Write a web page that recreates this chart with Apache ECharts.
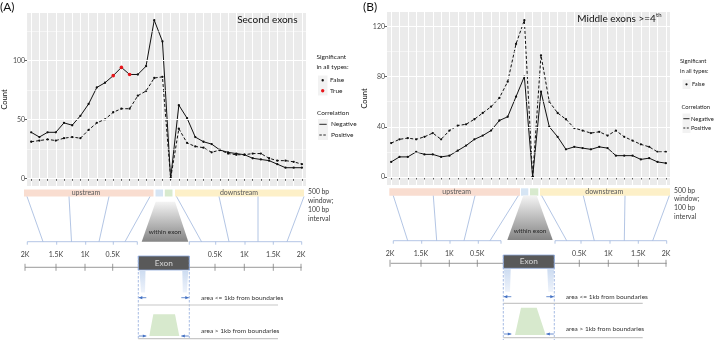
<!DOCTYPE html>
<html><head><meta charset="utf-8">
<script src="https://cdn.jsdelivr.net/npm/echarts@6/dist/echarts.min.js"></script>
<style>html,body{margin:0;padding:0;background:#fff}#c{width:722px;height:340px}</style>
</head><body><div id="c"></div>
<script>
// ---- data ----
const categories = ['U-2000','U-1900','U-1800','U-1700','U-1600','U-1500','U-1400','U-1300','U-1200','U-1100','U-1000','U-900','U-800','U-700','U-600','U-500','E<=1kb','E>1kb','D0','D100','D200','D300','D400','D500','D600','D700','D800','D900','D1000','D1100','D1200','D1300','D1400','D1500'];
const secondNegative = [39,35,39,39,47,45,53,63,77,81,87,94,88,88,95,134,116,0,62,51,35,31,29,24,22,21,20,17,16,15,12,9,9,9];
const secondPositive = [31,32,33,32,34,35,34,41,47,50,56,59,59,70,74,85,86,0,42,30,27,26,22,24,21,20,20,21,21,17,15,15,14,12];
const secondNegSignificant = [0,0,0,0,0,0,0,0,0,0,1,1,1,0,0,0,0,0,0,0,0,0,0,0,0,0,0,0,0,0,0,0,0,0];
const middlePositive = [27,30,31,30,32,35,30,37,41,42,46,51,56,63,76,106,125,0,97,60,51,46,39,37,35,36,33,37,32,29,26,24,20,20];
const middleNegative = [12,16,16,20,18,18,16,17,21,25,30,33,37,45,48,64,80,0,68,40,32,22,24,23,22,24,23,17,17,17,14,15,12,11];
const ticksA = [0,50,100];
const minorA = [25,75,125];
const ticksB = [0,40,80,120];
const minorB = [20,60,100];

const FONT = 'Lato, "Open Sans", sans-serif';

function gridSeries(xi, majors, minors) {
  return {
    type:'line', xAxisIndex:xi, yAxisIndex:xi, data:[], silent:true, z:1,
    markLine:{silent:true, symbol:['none','none'], label:{show:false}, animation:false,
      lineStyle:{color:'#ffffff', type:'solid', width:1},
      data: majors.map(v=>({yAxis:v})).concat(minors.map(v=>({yAxis:v, lineStyle:{color:'#ffffff', type:'solid', width:0.5}})))}
  };
}
function dataSeries(xi, vals, sig, dashed) {
  return {
    type:'line', xAxisIndex:xi, yAxisIndex:xi, z:3, symbol:'circle', showAllSymbol:true,
    data: vals.map((v,i)=>({value:v, symbolSize: sig[i]?3.6:2.3, itemStyle:{color: sig[i]?'#e8161b':'#111'}})),
    lineStyle:{color:'#111', width:1, type: dashed?[3,2]:'solid'},
    emphasis:{disabled:true}
  };
}
const zeros = categories.map(()=>0);

function xAx(gi){
  return {type:'category', gridIndex:gi, data:categories, boundaryGap:true,
    axisLine:{show:false}, axisLabel:{show:false},
    axisTick:{show:true, alignWithLabel:true, interval:0, length:2.5, lineStyle:{color:'#333', width:0.8}},
    splitLine:{show:true, alignWithLabel:true, interval:0, lineStyle:{color:'#fff', width:1}}};
}
function yAx(gi, mn, mx, ticks){
  return {type:'value', gridIndex:gi, min:mn, max:mx, axisLine:{show:false},
    axisTick:{show:true, length:2.5, customValues:ticks, lineStyle:{color:'#333', width:0.8}},
    axisLabel:{customValues:ticks, color:'#4d4d4d', fontSize:7, fontFamily:FONT, margin:2},
    splitLine:{show:false},
    name:'Count', nameLocation:'middle', nameGap: gi===0?15:17, nameTextStyle:{fontSize:7.5, color:'#111', fontFamily:FONT}};
}

// ---- graphics (diagram + legends) ----
const G = [];
function txt(x,y,s,o){ G.push({type:'text', x:x, y:y, silent:true, z:10, style:Object.assign({text:s, fill:'#404040', fontSize:7, fontFamily:FONT, align:'left', verticalAlign:'middle', textAlign:'left', textVerticalAlign:'middle'}, o||{})}); }
function ln(x1,y1,x2,y2,c,w,d){ G.push({type:'line', silent:true, z:10, shape:{x1:x1,y1:y1,x2:x2,y2:y2}, style:{stroke:c, lineWidth:w||0.8, lineDash:d||null}}); }
function poly(pts,fill){ G.push({type:'polygon', silent:true, z:9, shape:{points:pts}, style:{fill:fill}}); }
function rc(x,y,w,h,fill,stroke,lw){ G.push({type:'rect', silent:true, z:9, shape:{x:x,y:y,width:w,height:h}, style:{fill:fill, stroke:stroke||null, lineWidth:lw||0}}); }
function dot(x,y,r,c){ G.push({type:'circle', silent:true, z:11, shape:{cx:x,cy:y,r:r}, style:{fill:c}}); }
function arrow(x1,y,x2){ const c='#4472c4'; ln(x1,y,x2,y,c,0.8); const d = x2>x1?1:-1; poly([[x2,y],[x2-d*3.5,y-1.6],[x2-d*3.5,y+1.6]],c); }

const LB = '#9fb6dd';
function diagram(p){
  rc(p.up[0], p.sy0, p.up[1]-p.up[0], p.sy1-p.sy0, '#f9ddd0');
  rc(p.blue[0], p.sy0, p.blue[1]-p.blue[0], p.sy1-p.sy0, '#d6e5f4');
  rc(p.green[0], p.sy0, p.green[1]-p.green[0], p.sy1-p.sy0, '#d8eace');
  rc(p.down[0], p.sy0, p.down[1]-p.down[0], p.sy1-p.sy0, '#fdf0c8');
  const my = (p.sy0+p.sy1)/2;
  txt(p.upText, my, 'upstream', {align:'center', textAlign:'center', fill:'#595959', fontSize:7});
  txt(p.downText, my, 'downstream', {align:'center', textAlign:'center', fill:'#595959', fontSize:7});
  p.upFan.concat(p.downFan).forEach(f=>ln(f[0], p.sy1, f[1], p.by, LB, 0.8));
  [p.upBr, p.downBr].forEach(b=>{
    ln(b[0], p.by, b[b.length-1], p.by, LB, 0.8);
    b.forEach(x=>ln(x, p.by, x, p.by+3, LB, 0.8));
  });
  G.push({type:'polygon', silent:true, z:9, shape:{points:[[p.wt[0],p.wty0],[p.wt[1],p.wty0],[p.wb[1],p.wty1],[p.wb[0],p.wty1]]},
    style:{fill:{type:'linear',x:0,y:0,x2:0,y2:1,colorStops:[{offset:0,color:'#f4f4f4'},{offset:1,color:'#858585'}]}}});
  txt((p.wb[0]+p.wb[1])/2, p.wtext, 'within exon', {align:'center', textAlign:'center', fill:'#262626', fontSize:6.4});
  p.upLab.concat(p.downLab).forEach(l=>{
    txt(l[0], p.ly, l[1], {align:'center', textAlign:'center', fill:'#404040', fontSize:7});
    ln(l[0], p.ry-3.5, l[0], p.ry+3.5, '#808080', 0.8);
  });
  ln(p.upR[0], p.ry, p.upR[1], p.ry, '#808080', 0.8);
  ln(p.downR[0], p.ry, p.downR[1], p.ry, '#808080', 0.8);
  rc(p.ex[0], p.ey0, p.ex[1]-p.ex[0], p.ey1-p.ey0, '#595959', '#8faadc', 0.8);
  txt((p.ex[0]+p.ex[1])/2, (p.ey0+p.ey1)/2, 'Exon', {align:'center', textAlign:'center', fill:'#d9d9d9', fontSize:8.3});
  ln(p.ex[0], p.ey0, p.ex[0], 340, '#8faadc', 0.8, [2.5,1.5]);
  ln(p.ex[1], p.ey0, p.ex[1], 340, '#8faadc', 0.8, [2.5,1.5]);
  const bf = {type:'linear',x:0,y:0,x2:0,y2:1,colorStops:[{offset:0,color:'#cddcf1'},{offset:1,color:'#eef3fb'}]};
  G.push({type:'polygon', silent:true, z:9, shape:{points:[[p.bl[0],p.bty0],[p.bl[1],p.bty0],[p.bl[3],p.bty1],[p.bl[2],p.bty1]]}, style:{fill:bf}});
  G.push({type:'polygon', silent:true, z:9, shape:{points:[[p.br[0],p.bty0],[p.br[1],p.bty0],[p.br[3],p.bty1],[p.br[2],p.bty1]]}, style:{fill:bf}});
  arrow(p.ex[0]+8, p.a1, p.ex[0]+0.5);
  arrow(p.ex[1]-8, p.a1, p.ex[1]-0.5);
  txt(p.tx, p.a1, 'area <= 1kb from boundaries', {fill:'#333', fontSize:6.5});
  ln(p.ex[0], p.sep, p.lineEnd, p.sep, '#c8c8c8', 1.2);
  poly([[p.gt[0],p.gty0],[p.gt[1],p.gty0],[p.gb[1],p.gty1],[p.gb[0],p.gty1]], '#d7e9cd');
  arrow(p.ex[0]+0.5, p.a2, p.ex[0]+8);
  arrow(p.ex[1]-0.5, p.a2, p.ex[1]-8);
  txt(p.tx, p.t2, 'area > 1kb from boundaries', {fill:'#333', fontSize:6.5});
  ln(p.ex[0], p.bot, p.lineEnd, p.bot, '#c8c8c8', 1.2);
  ['500 bp','window;','100 bp','interval'].forEach((s,i)=>txt(p.nx, p.ny[i], s, {fill:'#404040', fontSize:6.8}));
}

diagram({sy0:189.5, sy1:196.5, up:[24,153.5], blue:[155.5,163], green:[164.8,172.5], down:[175,304],
  upText:86, downText:239,
  upFan:[[27,43],[69,71.5],[109,99],[150,125]], downFan:[[176.5,201.5],[219,229],[258,258],[304,287]],
  by:241.7, upBr:[27.3,56.7,85.7,113.3,137.3], downBr:[189.3,215.7,245,273.3,301.7],
  wt:[155.7,175], wb:[141.7,188.3], wty0:201.7, wty1:241.7, wtext:231.5,
  ly:255, upLab:[[25,'2K'],[56,'1.5K'],[85,'1K'],[112.7,'0.5K']], downLab:[[215,'0.5K'],[244.3,'1K'],[273.3,'1.5K'],[301,'2K']],
  ry:267.3, upR:[25,138.3], downR:[189.3,301.7],
  ex:[138.3,189.3], ey0:256, ey1:270,
  bl:[139.5,145.5,141,145], br:[182.3,188.3,182.8,186.8], bty0:270.5, bty1:292.5,
  a1:297.7, tx:201, sep:305, lineEnd:278,
  gt:[153.3,175], gb:[149.3,179.3], gty0:314.3, gty1:336,
  a2:336, t2:331, bot:338.7,
  nx:308, ny:[191.7,200.7,210,219.3]});

diagram({sy0:188.3, sy1:195.7, up:[389.3,520], blue:[521,528.3], green:[530,538.3], down:[540,670],
  upText:456.7, downText:604.3,
  upFan:[[393.3,407.7],[433.3,436.7],[475,464],[518.3,490]], downFan:[[541.7,566.7],[583.3,594.3],[625,624.3],[669.3,652.7]],
  by:240.7, upBr:[393.3,421.7,450,478.3,501], downBr:[555,581,610,638.3,666.7],
  wt:[523.3,536.7], wb:[507.3,552.7], wty0:195.5, wty1:240, wtext:230.7,
  ly:254, upLab:[[390,'2K'],[421,'1.5K'],[449.3,'1K'],[477.3,'0.5K']], downLab:[[579.3,'0.5K'],[608.3,'1K'],[638.3,'1.5K'],[666,'2K']],
  ry:263.3, upR:[390.7,503.3], downR:[554.3,666.7],
  ex:[503.3,554.3], ey0:255, ey1:268.3,
  bl:[504,510.7,505,510], br:[547.3,554,548.3,553], bty0:269.3, bty1:291.7,
  a1:296.7, tx:565.7, sep:303.3, lineEnd:642.7,
  gt:[521,536.7], gb:[515,545.7], gty0:307.7, gty1:335,
  a2:334, t2:329, bot:337.7,
  nx:674, ny:[191,199.3,208.3,217.3]});

// panel labels & titles
txt(0, 7.5, '(A)', {fill:'#111', fontSize:12});
txt(363, 7.5, '(B)', {fill:'#111', fontSize:12});
txt(297.5, 20, 'Second exons', {align:'right', textAlign:'right', fill:'#111', fontSize:10});
txt(655.8, 18.8, 'Middle exons >=4', {align:'right', textAlign:'right', fill:'#111', fontSize:10});
txt(656, 15.5, 'th', {fill:'#111', fontSize:6});

// legend A
txt(316.5, 57.3, 'Significant', {fill:'#222', fontSize:6.5});
txt(316.5, 66.7, 'in all types:', {fill:'#222', fontSize:6.5});
rc(318, 75.5, 9.5, 20, '#f2f2f2');
dot(322.7, 80.3, 1.2, '#111'); dot(322.7, 90.7, 1.7, '#e8161b');
txt(330, 80.3, 'False', {fill:'#222', fontSize:6.5});
txt(330, 90.7, 'True', {fill:'#222', fontSize:6.5});
txt(317, 113.3, 'Correlation', {fill:'#222', fontSize:6.5});
rc(318, 119, 10, 21, '#f2f2f2');
ln(319.3, 124.3, 326.7, 124.3, '#111', 0.9);
ln(319.3, 135, 326.7, 135, '#111', 0.9, [2.5,1.5]);
txt(331, 124.3, 'Negative', {fill:'#222', fontSize:6.5});
txt(331, 135, 'Positive', {fill:'#222', fontSize:6.5});

// legend B
txt(680, 61, 'Significant', {fill:'#222', fontSize:5.8});
txt(680, 70.7, 'in all types:', {fill:'#222', fontSize:5.8});
rc(682.5, 79.5, 8, 9.5, '#f2f2f2');
dot(686.5, 84.3, 1.1, '#111');
txt(692, 84.3, 'False', {fill:'#222', fontSize:5.8});
txt(681.5, 107.3, 'Correlation', {fill:'#222', fontSize:5.8});
rc(682.5, 113.5, 8, 19.5, '#f2f2f2');
ln(683.3, 118.7, 689.5, 118.7, '#111', 0.9);
ln(683.3, 128, 689.5, 128, '#111', 0.9, [2,1.5]);
txt(691, 118.7, 'Negative', {fill:'#222', fontSize:5.8});
txt(691, 128, 'Positive', {fill:'#222', fontSize:5.8});

const chart = echarts.init(document.getElementById('c'), null, {renderer:'canvas'});
chart.setOption({
  animation:false,
  backgroundColor:'#ffffff',
  grid:[
    {left:22, top:13, width:284, height:173, show:true, backgroundColor:'#ebebeb', borderWidth:0},
    {left:387, top:12, width:283, height:173, show:true, backgroundColor:'#ebebeb', borderWidth:0}
  ],
  xAxis:[xAx(0), xAx(1)],
  yAxis:[yAx(0,-6.5,140.1,ticksA), yAx(1,-6.4,131.5,ticksB)],
  series:[
    gridSeries(0, ticksA, minorA),
    gridSeries(1, ticksB, minorB),
    dataSeries(0, secondPositive, zeros, true),
    dataSeries(0, secondNegative, secondNegSignificant, false),
    dataSeries(1, middlePositive, zeros, true),
    dataSeries(1, middleNegative, zeros, false)
  ],
  graphic: G
});
</script>
</body></html>
